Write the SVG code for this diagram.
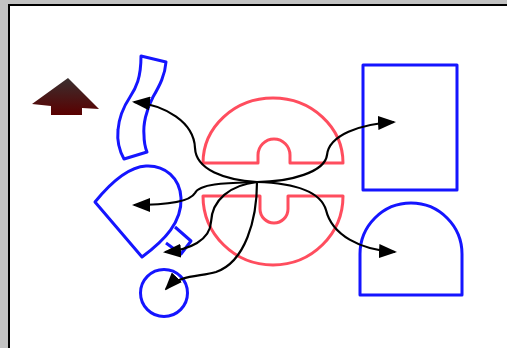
<svg xmlns="http://www.w3.org/2000/svg" width="507" height="348" viewBox="0 0 507 348">
<defs>
<linearGradient id="ag" x1="0" y1="0" x2="0" y2="1">
<stop offset="0" stop-color="#3a3030"/>
<stop offset="1" stop-color="#5a0000"/>
</linearGradient>
<marker id="ah" viewBox="0 0 18 14" refX="16" refY="7" markerWidth="18" markerHeight="14" markerUnits="userSpaceOnUse" orient="auto">
<path d="M0,0 L18,7 L0,14 Z" fill="#000"/>
</marker>
<style>
.b{fill:none;stroke:#1515ff;stroke-width:3;stroke-linejoin:round}
.r{fill:none;stroke:#ff4d5e;stroke-width:3;stroke-linejoin:round}
.c{fill:none;stroke:#000;stroke-width:2.2;marker-end:url(#ah)}
</style>
</defs>
<rect x="0" y="0" width="507" height="348" fill="#c2c2c2"/>
<rect x="9" y="5" width="500" height="346" fill="#fff" stroke="#000" stroke-width="2"/>
<g id="arrowShape"><polygon points="68,78 99,109 82,108 82,115 51,115 51,106 32,104" fill="url(#ag)"/></g>
<g id="strip"><path class="b" d="M141,56 L166,62 C165,75 160,85 153,97 C146,110 143,125 144,135 C144,142 145,147 147,152 L124,159 C119,150 117,140 118,130 C119,117 124,106 130,97 C136,88 141,78 141,56 Z"/></g>
<g id="fan"><path class="b" d="M95,202 L142,257 C165,240 182,222 181,198 C180,178 165,165 146,166 C126,167 108,186 95,202 Z"/><polyline class="b" points="175,227 191,241 181,254 166,243"/></g>
<g id="circle"><circle class="b" cx="164" cy="293" r="23.5"/></g>
<g id="redTop"><path class="r" d="M203,163 A70,65 0 0 1 343,163 L290,163 L290,155 A16,16 0 0 0 258,155 L258,163 Z"/></g>
<g id="redBottom"><path class="r" d="M203,196 A70,69 0 0 0 343,196 L288,196 L288,209 A14,14 0 0 1 260,209 L260,196 Z"/></g>
<g id="rect"><rect class="b" x="363" y="65" width="94" height="125"/></g>
<g id="arch"><path class="b" d="M360,295 L360,254 A51,51 0 0 1 462,254 L462,295 Z"/></g>
<g id="connectors">
<path class="c" d="M257,182 C225,180 196,170 195,148 C194,122 165,105 134,102"/>
<path class="c" d="M257,182 C290,182 325,172 327,155 C329,135 360,124 394,122"/>
<path class="c" d="M257,182 C230,183 200,183 195,193 C190,202 165,205 134,205"/>
<path class="c" d="M257,182 C290,183 320,190 326,210 C332,235 360,250 395,252"/>
<path class="c" d="M257,182 C230,185 212,200 211,222 C210,240 190,250 165,252"/>
<path class="c" d="M257,182 C257,220 245,262 216,272 C200,277 180,274 166,289"/>
</g>
</svg>
